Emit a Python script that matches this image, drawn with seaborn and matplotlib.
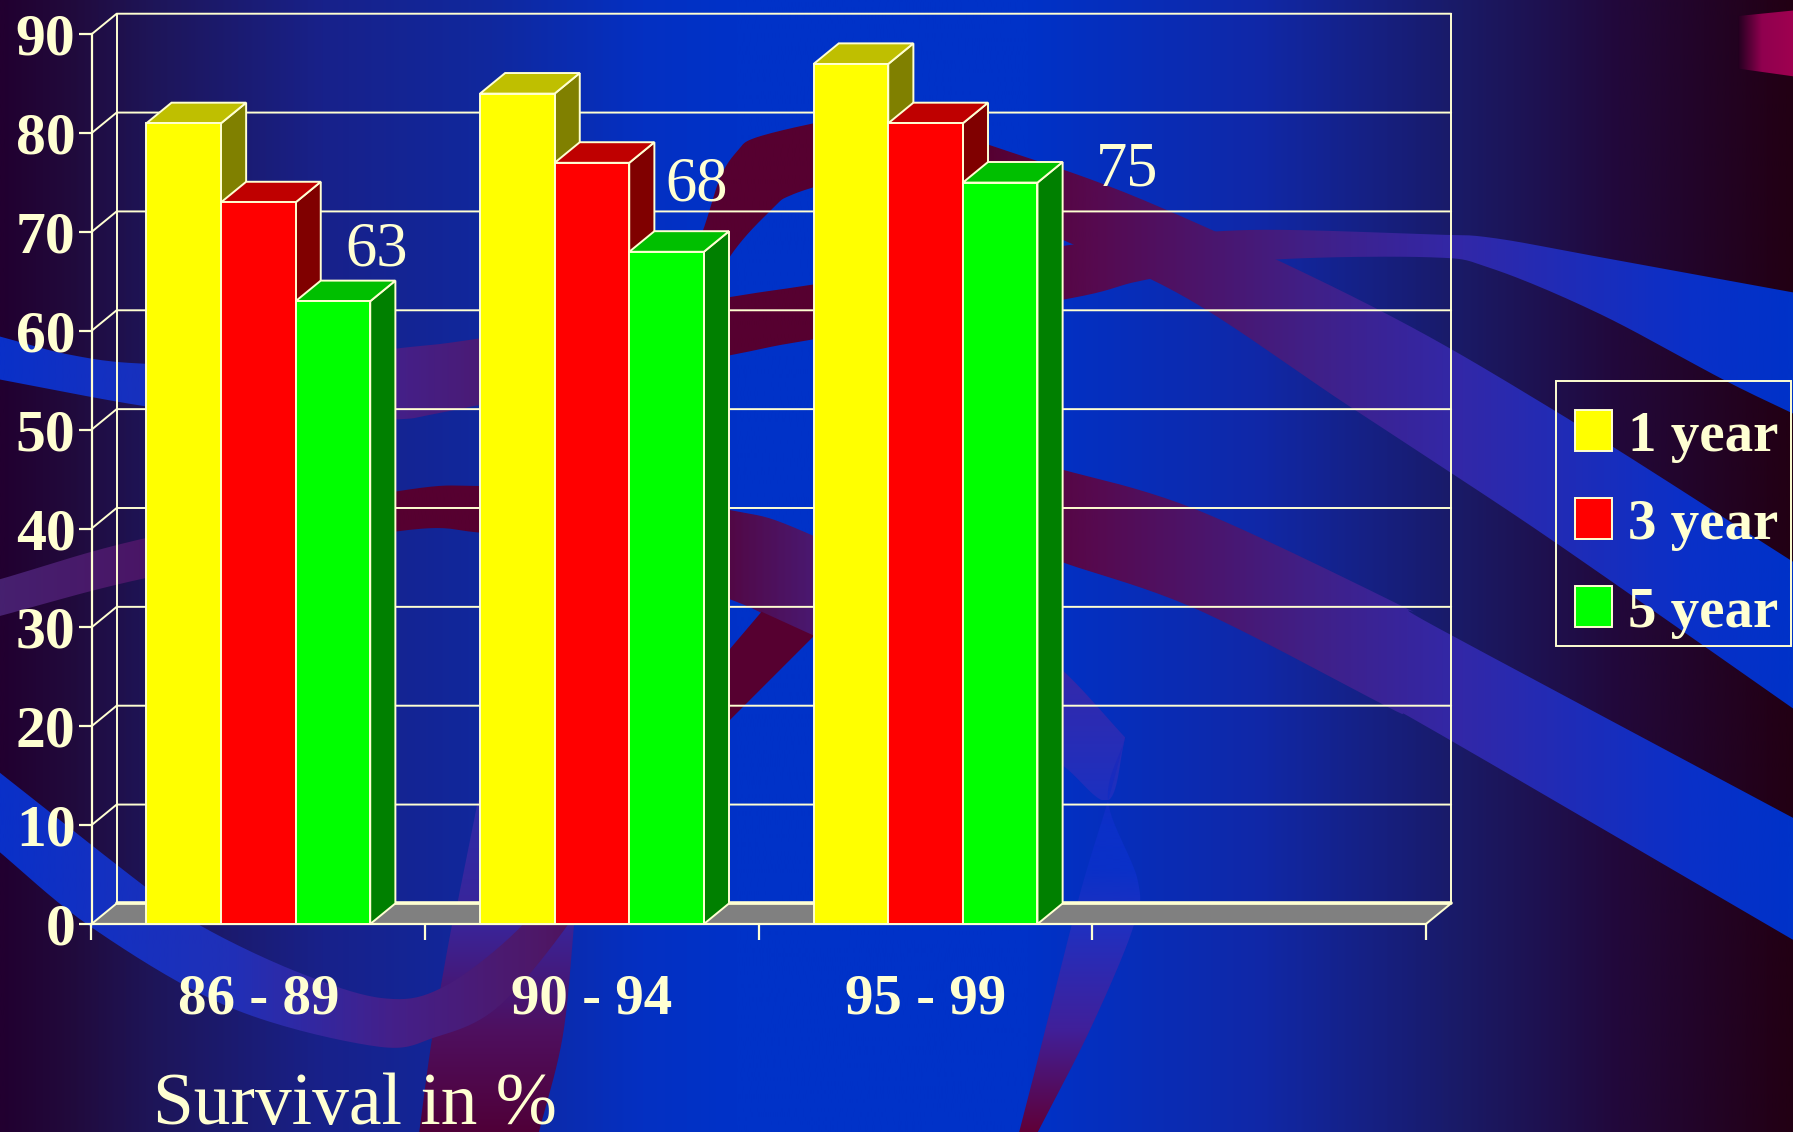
import numpy as np
import pandas as pd
import matplotlib
matplotlib.use("Agg")
import matplotlib.pyplot as plt
import seaborn as sns
from matplotlib.colors import LinearSegmentedColormap
from matplotlib.patches import PathPatch, Polygon, Rectangle
from matplotlib.path import Path

# chart values
periods = ["86 - 89", "90 - 94", "95 - 99"]
series_names = ["1 year", "3 year", "5 year"]
one_year = [81, 84, 87]
three_year = [73, 77, 81]
five_year = [63, 68, 75]
five_year_labels = ["63", "68", "75"]
y_ticks = list(range(0, 100, 10))

front_colors = ["#FFFF00", "#FF0000", "#00FF00"]
top_colors = ["#BFBF00", "#BF0000", "#00BF00"]
side_colors = ["#808000", "#800000", "#008000"]
cream = "#FFFFD2"

# background ribbons, in pixels of a 1568x990 slide: (upper edge, lower edge)
ribbon_top = ([(-5, 293), (60, 310), (125, 318), (240, 318), (345, 305), (419, 296), (637, 260), (710, 249),
               (930, 215), (1000, 208), (1100, 201), (1250, 205), (1305, 208), (1400, 225), (1575, 257)],
              [(-5, 331), (125, 355), (240, 369), (345, 367), (400, 358), (637, 311), (710, 297), (930, 262),
               (1000, 245), (1100, 228), (1250, 225), (1305, 235), (1400, 275), (1509, 333), (1575, 365)])
ribbon_arc = ([(590, 270), (615, 201), (630, 155), (645, 132), (662, 120), (726, 105), (780, 98), (860, 125),
               (1000, 175), (1200, 268), (1361, 360), (1566, 490), (1580, 498)],
              [(600, 290), (640, 222), (676, 182), (691, 171), (726, 160), (780, 150), (860, 180), (930, 210),
               (1040, 262), (1172, 350), (1259, 407), (1361, 475), (1533, 595), (1580, 628)])
ribbon_low_right = ([(900, 405), (930, 411), (1047, 446), (1224, 529), (1259, 550), (1575, 719)],
                    [(900, 478), (930, 492), (1047, 533), (1213, 618), (1259, 642), (1575, 826)])
ribbon_low_left = ([(-10, 668), (125, 774), (178, 811), (260, 850), (335, 873), (388, 863), (455, 811), (500, 750)],
                   [(-10, 737), (80, 811), (201, 881), (328, 915), (381, 907), (435, 881), (495, 811), (530, 750)])
ribbon_mid = ([(-5, 508), (130, 470), (345, 430), (420, 425), (520, 430), (638, 446), (710, 468), (900, 560)],
              [(-5, 540), (130, 505), (345, 465), (420, 466), (500, 480), (638, 524), (710, 557), (900, 630)])
ribbon_turn_end = ([(880, 550), (930, 587), (984, 645)],
                   [(880, 635), (930, 670), (969, 700), (984, 645)])
ribbon_turn = ([(984, 645), (969, 700), (944, 783), (909, 921), (890, 995)],
               [(984, 645), (969, 700), (995, 770), (991, 811), (953, 901), (905, 995)])
ribbon_foot = ([(418, 700), (400, 790), (395, 810), (378, 907), (366, 995)],
               [(510, 700), (505, 780), (502, 809), (492, 907), (470, 995)])
wedge = [(666, 535), (712, 556), (632, 636), (632, 575)]
corner = ([(1520, 14), (1570, 9)], [(1520, 60), (1570, 67)])

sns.set_theme(style="white")
plt.rcParams["font.family"] = ["Liberation Serif", "DejaVu Serif"]

fig = plt.figure(figsize=(17.93, 11.32), dpi=100)

# slide background
bg = fig.add_axes([0, 0, 1, 1], zorder=-1)
bg.set_axis_off()


def ramp(stops, vertical=False, lo=0, hi=1568):
    cmap = LinearSegmentedColormap.from_list("r", [((p - lo) / (hi - lo), c) for p, c in stops])
    g = np.linspace(0, 1, 512)
    return cmap(g[:, None] if vertical else g[None, :])


def smooth(pts, n=20):
    # catmull-rom through the points
    p = np.array(pts, float)
    p = np.vstack([2 * p[0] - p[1], p, 2 * p[-1] - p[-2]])
    out = []
    for i in range(1, len(p) - 2):
        for t in np.linspace(0, 1, n, endpoint=False):
            out.append(0.5 * (2 * p[i] + (p[i + 1] - p[i - 1]) * t
                              + (2 * p[i - 1] - 5 * p[i] + 4 * p[i + 1] - p[i + 2]) * t ** 2
                              + (3 * p[i] - p[i - 1] - 3 * p[i + 1] + p[i + 2]) * t ** 3))
    out.append(p[-2])
    return np.array(out)


def draw_ribbon(edges, image, extent=(0, 1568, 990, 0)):
    verts = np.vstack([smooth(edges[0]), smooth(edges[1])[::-1]])
    patch = PathPatch(Path(verts, closed=False), transform=bg.transData, fc="none", ec="none")
    bg.add_patch(patch)
    im = bg.imshow(image, extent=extent, aspect="auto", interpolation="bilinear")
    im.set_clip_path(patch)


bg_stops = [(0, "#220030"), (60, "#210A3C"), (130, "#1E1558"), (280, "#18218A"), (430, "#10289E"), (560, "#0430C2"),
            (640, "#0032C8"), (900, "#0032C8"), (1100, "#1028A8"), (1280, "#1A1A66"), (1420, "#22083A"),
            (1568, "#220014")]
ribbon_stops = [(0, "#0A30C8"), (200, "#2030B8"), (340, "#44208A"), (470, "#4E1868"), (620, "#560030"), (860, "#560030"),
                (960, "#560A50"), (1150, "#402088"), (1280, "#3228A8"), (1480, "#0A30C8"), (1568, "#0032C8")]
mid_stops = [(0, "#46206F"), (130, "#4A1566"), (345, "#560030"), (600, "#560030"), (710, "#4A1870"),
             (1568, "#3A2AA0")]
turn_stops = [(645, "#2228B8"), (720, "#0C30C8"), (760, "#0A30C8"), (810, "#2030C0"), (900, "#40209A"),
              (990, "#600038")]
foot_stops = [(700, "#2E2CA8"), (810, "#3A2498"), (900, "#4E1060"), (990, "#500038")]
end_stops = [(570, "#3828A8"), (700, "#1C30C0")]

bg.imshow(ramp(bg_stops), extent=(0, 1568, 990, 0), aspect="auto", interpolation="bilinear")
draw_ribbon(ribbon_mid, ramp(mid_stops))
draw_ribbon(ribbon_foot, ramp(foot_stops, True, 700, 990), extent=(0, 1568, 990, 700))
draw_ribbon(ribbon_low_left, ramp(ribbon_stops))
draw_ribbon(ribbon_turn_end, ramp(end_stops, True, 570, 700), extent=(0, 1568, 700, 570))
draw_ribbon(ribbon_turn, ramp(turn_stops, True, 645, 990), extent=(0, 1568, 990, 645))
draw_ribbon(ribbon_low_right, ramp(ribbon_stops))
draw_ribbon(ribbon_arc, ramp(ribbon_stops))
draw_ribbon(ribbon_top, ramp(ribbon_stops))
bg.add_patch(Polygon(wedge, fc="#560030", ec="none"))
draw_ribbon(corner, ramp([(1520, "#220020"), (1540, "#90004F"), (1568, "#A00050")], False, 1520, 1568),
            extent=(1520, 1570, 990, 0))
# legend frame sits on the slide, the rows are placed on their own below
bg.add_patch(Rectangle((1361, 333), 205, 232, fc="none", ec=cream, lw=1.4))
bg.set_xlim(0, 1568)
bg.set_ylim(990, 0)

# chart axes: front plane of the 3D box
ax = fig.add_axes([91.5 / 1793, 208 / 1132, 1334.5 / 1793, 889.7 / 1132])
ax.patch.set_alpha(0)

df = pd.DataFrame({"period": periods * 3,
                   "series": np.repeat(series_names, 3),
                   "value": one_year + three_year + five_year})

sns.barplot(data=df, x="period", y="value", hue="series", order=periods + [" "], hue_order=series_names,
            palette=front_colors, saturation=1, width=0.671, gap=0, edgecolor=cream, linewidth=1.4, ax=ax,
            zorder=5)
ax.set_xlim(-0.5, 3.5)
ax.set_ylim(0, 90)

dx, dy = 22 / 292, 18 / 8.644
x0, x1 = -0.5, 3.5
lw = 1.4

# floor and walls
ax.add_patch(Polygon([(x0, 0), (x1, 0), (x1 + dx, dy), (x0 + dx, dy)], fc="#808080", ec=cream, lw=lw,
                     clip_on=False, zorder=1))
ax.plot([x0 + dx, x1 + dx], [dy, dy], color=cream, lw=2.6, clip_on=False, zorder=1.5)
for v in y_ticks[1:]:
    ax.plot([x0, x0 + dx, x1 + dx], [v, v + dy, v + dy], color=cream, lw=lw, clip_on=False, zorder=1)
ax.plot([x0 + dx, x0 + dx], [dy, 90 + dy], color=cream, lw=lw, clip_on=False, zorder=1)
ax.plot([x1 + dx, x1 + dx], [dy, 90 + dy], color=cream, lw=lw, clip_on=False, zorder=1)

# 3D sides and tops of the bars, left to right so neighbours overlap properly
for i, container in enumerate(ax.containers):
    for bar in container.patches:
        left, right = bar.get_x(), bar.get_x() + bar.get_width()
        h = bar.get_height()
        z = 3 + i
        ax.add_patch(Polygon([(right, 0), (right + dx, dy), (right + dx, h + dy), (right, h)],
                             fc=side_colors[i], ec=cream, lw=lw, zorder=z, clip_on=False))
        ax.add_patch(Polygon([(left, h), (left + dx, h + dy), (right + dx, h + dy), (right, h)],
                             fc=top_colors[i], ec=cream, lw=lw, zorder=z, clip_on=False))
        bar.set_zorder(z + 0.5)
        bar.set_clip_on(False)

# value labels of the 5 year bars
label_x = [0.355, 1.315, 2.603]
label_y = [68.15, 74.75, 76.25]
for x, y, txt in zip(label_x, label_y, five_year_labels):
    ax.text(x, y, txt, color=cream, fontsize=45, ha="center", va="center", zorder=8)

sns.despine(ax=ax, top=True, right=True)
for side in ["left", "bottom"]:
    ax.spines[side].set_color(cream)
    ax.spines[side].set_linewidth(1.6)
    ax.spines[side].set_zorder(2.5)

ax.set_xlabel("")
ax.set_ylabel("")
ax.set_yticks(y_ticks)
ax.set_yticklabels([str(v) for v in y_ticks], fontsize=43, fontweight="bold", color=cream)
ax.tick_params(axis="y", length=9.5, width=1.6, color=cream, left=True, pad=2)
ax.set_xticks([x0, 0.5, 1.5, 2.5, x1], labels=[""] * 5)
ax.set_xticks([0, 1, 2], labels=periods, minor=True, fontsize=41, fontweight="bold", color=cream)
ax.tick_params(axis="x", which="major", length=11.5, width=1.6, color=cream, bottom=True)
ax.tick_params(axis="x", which="minor", length=0, pad=36)

fig.text(153 / 1793, 1 - 1124 / 1132, "Survival in %", color=cream, fontsize=52.8, ha="left", va="baseline")

sns.move_legend(ax, "center", bbox_to_anchor=((1556 + 1791) / 2 / 1793 + 3 / 1793, 1 - 524.5 / 1132),
                bbox_transform=fig.transFigure, title=None, frameon=False, fontsize=41,
                handlelength=0.66, handleheight=0.72,
                handletextpad=0.28, labelspacing=0.63, borderpad=0.28, borderaxespad=0)
leg = ax.get_legend()
leg.set_zorder(9)
for h, t in zip(leg.get_patches(), leg.get_texts()):
    h.set_edgecolor(cream)
    h.set_linewidth(1.4)
    t.set_color(cream)
    t.set_fontweight("bold")

fig.savefig("out.png", dpi=100)
